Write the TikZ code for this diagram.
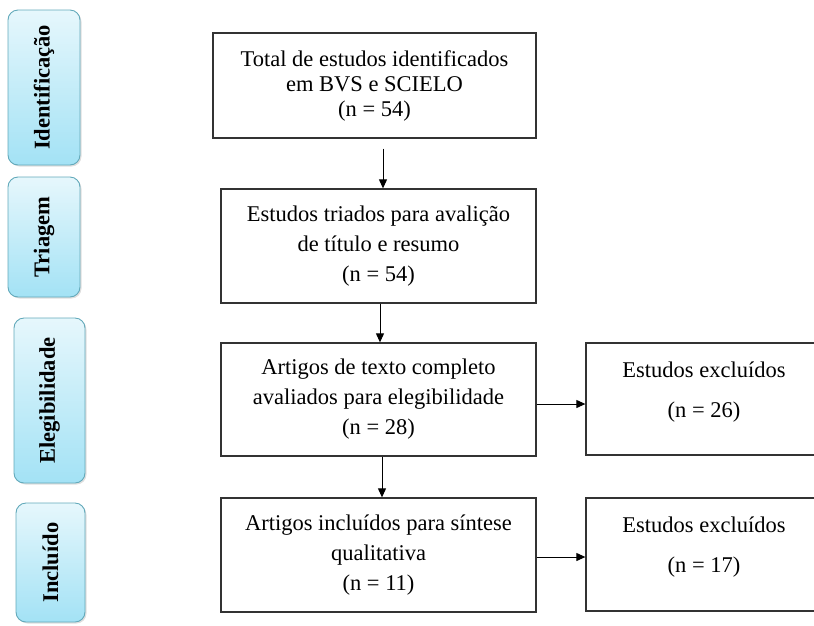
\documentclass[tikz,border=0pt]{standalone}
\usepackage{fontspec}
\setmainfont{Liberation Serif}
\usepackage{tikz}
\usetikzlibrary{arrows.meta,shadows}

\definecolor{stagetop}{HTML}{E6F7FC}
\definecolor{stagebot}{HTML}{A3E2F5}
\definecolor{stageline}{HTML}{62A9BA}

\tikzset{
  stage/.style={draw=stageline, line width=0.9pt, rounded corners=10pt,
    top color=stagetop, bottom color=stagebot, inner sep=0pt,
    drop shadow={opacity=0.25, shadow xshift=1.5pt, shadow yshift=-1.5pt},
    font=\fontsize{22.5}{26}\selectfont\bfseries},
  box/.style={draw=black!80, line width=1.3pt, align=center, inner sep=0pt,
    font=\fontsize{22.5}{30}\selectfont},
  exclbox/.style={box, minimum width=236pt, text depth=19pt,
    font=\fontsize{22.5}{40}\selectfont},
  flow/.style={->, line width=1pt, >={Triangle[length=9pt,width=8pt]}}
}

\begin{document}
\begin{tikzpicture}[x=1pt,y=-1pt]
  \useasboundingbox (0,0) rectangle (814,625);

  % phases on the left
  \node [stage, minimum width=72pt, minimum height=155pt] (ident) at (44,87.5) {\rotatebox{90}{Identificação}};
  \node [stage, minimum width=72pt, minimum height=120pt] (triag) at (44,237) {\rotatebox{90}{Triagem}};
  \node [stage, minimum width=71pt, minimum height=165pt] (eleg) at (49.5,400.5) {\rotatebox{90}{Elegibilidade}};
  \node [stage, minimum width=69pt, minimum height=119pt] (incl) at (50.5,562.5) {\rotatebox{90}{Incluído}};

  % main flow
  \node [box, minimum width=323pt, minimum height=105pt, font=\fontsize{22.5}{25}\selectfont] (total) at (374.5,85.5)
    {Total de estudos identificados\\em BVS e SCIELO\\(n = 54)};
  \node [box, minimum width=315pt, minimum height=114pt] (triados) at (378.5,246)
    {Estudos triados para avalição\\de título e resumo\\(n = 54)};
  \node [box, minimum width=315pt, minimum height=113pt] (completo) at (378.5,399.5)
    {Artigos de texto completo\\avaliados para elegibilidade\\(n = 28)};
  \node [box, minimum width=315pt, minimum height=114pt] (incluidos) at (378.5,555)
    {Artigos incluídos para síntese\\qualitativa\\(n = 11)};

  % excluded
  \node [exclbox, minimum height=112pt] (excl1) at (704,399) {Estudos excluídos\\(n = 26)};
  \node [exclbox, minimum height=113pt] (excl2) at (704,554.5) {Estudos excluídos\\(n = 17)};

  % arrows
  \draw [flow, shorten <=10pt] ([xshift=4.5pt]triados.north |- total.south) -- ([xshift=4.5pt]triados.north);
  \draw [flow] ([xshift=1.5pt]triados.south) -- ([xshift=1.5pt]completo.north);
  \draw [flow] ([xshift=3.5pt]completo.south) -- ([xshift=3.5pt]incluidos.north);
  \draw [flow] ([yshift=-4.5pt]completo.east) -- ([yshift=-4.5pt]completo.east -| excl1.west);
  \draw [flow] ([yshift=-2pt]incluidos.east) -- ([yshift=-2pt]incluidos.east -| excl2.west);
\end{tikzpicture}
\end{document}
